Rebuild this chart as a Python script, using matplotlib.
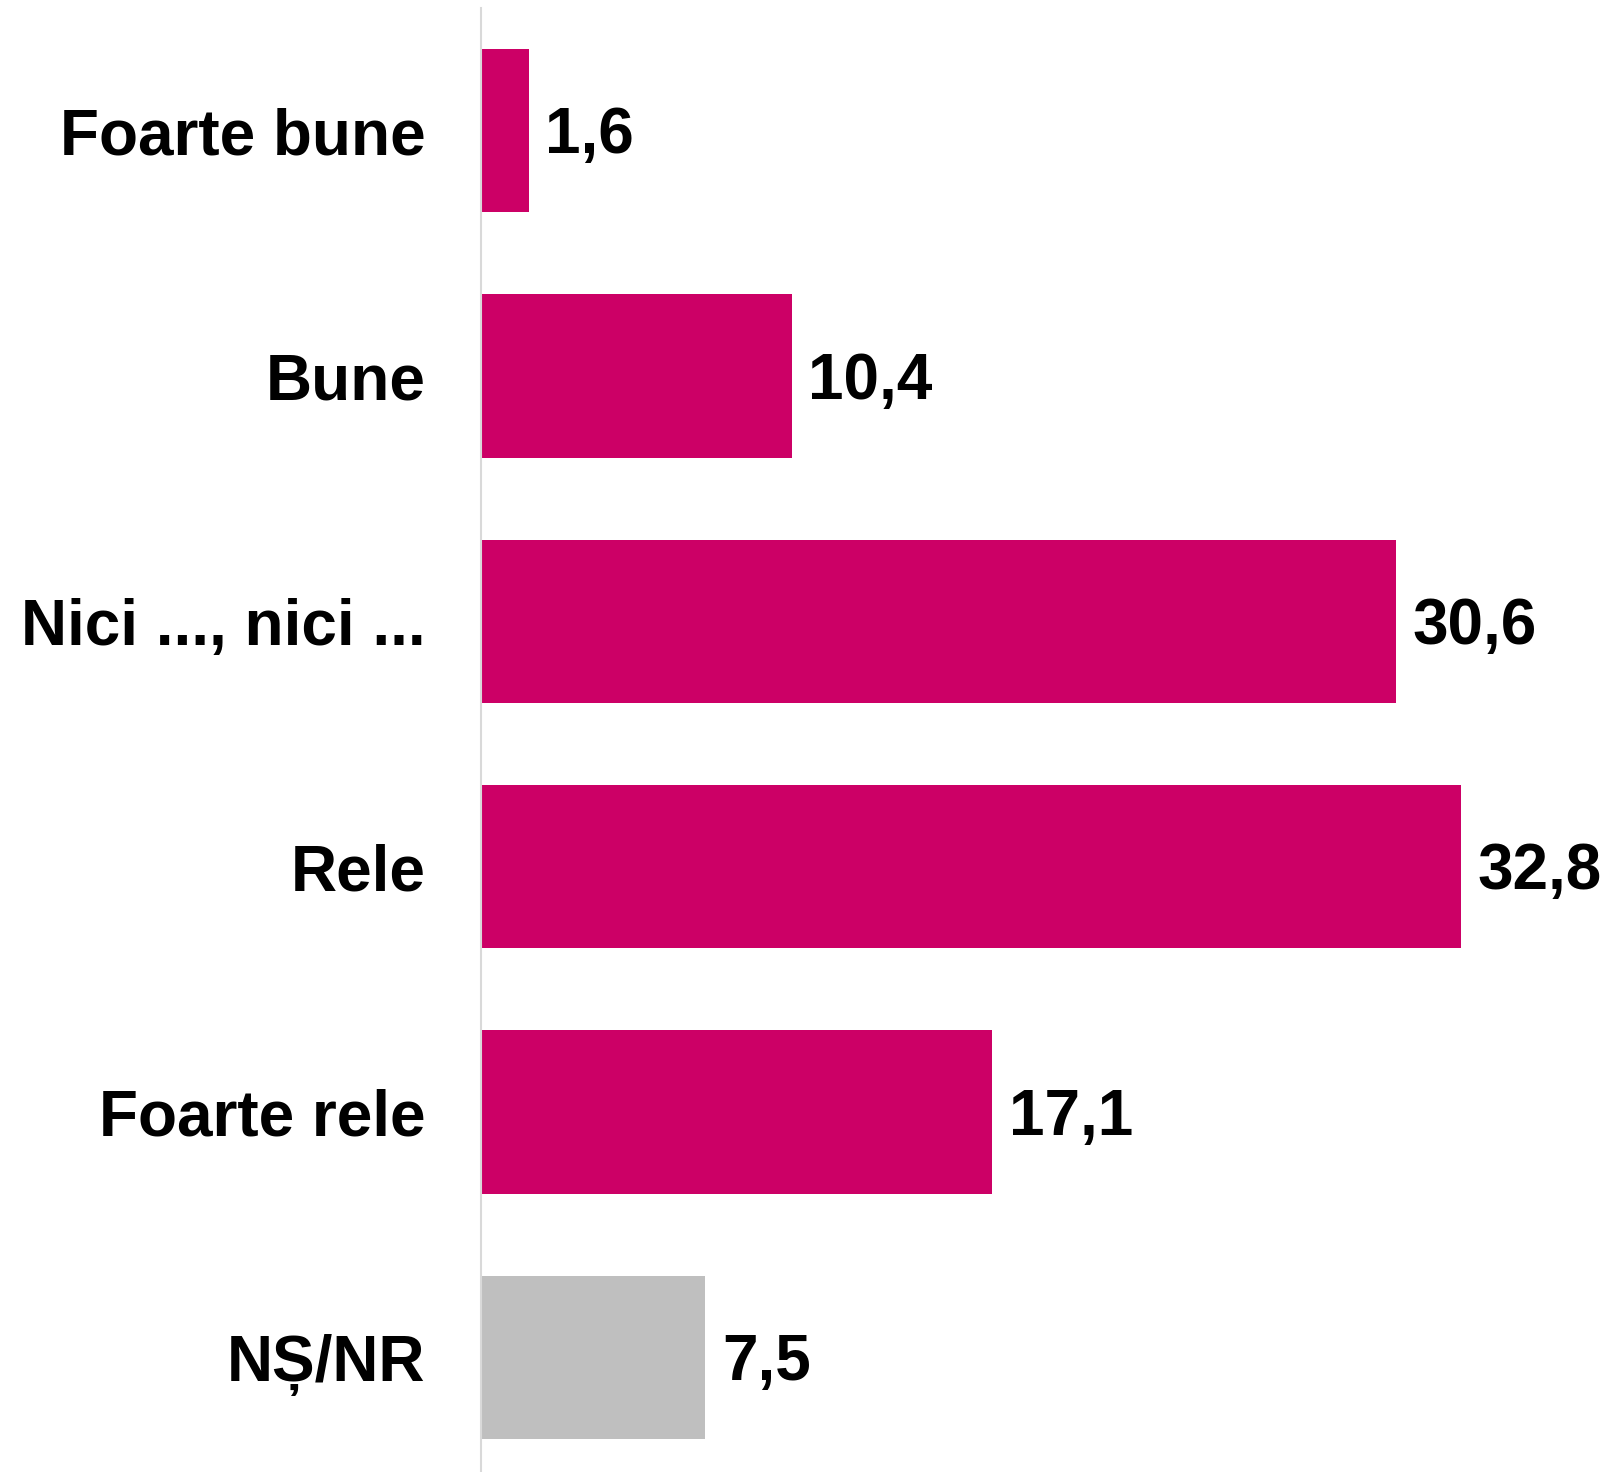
import matplotlib
matplotlib.use("Agg")
import matplotlib.pyplot as plt

categories = ["Foarte bune", "Bune", "Nici ..., nici ...", "Rele", "Foarte rele", "NȘ/NR"]
values = [1.6, 10.4, 30.6, 32.8, 17.1, 7.5]
colors = ["#CC0066"] * 5 + ["#BFBFBF"]

plt.rcParams["font.family"] = ["Liberation Sans", "DejaVu Sans"]

W, H = 1613, 1472
fig = plt.figure(figsize=(W / 100, H / 100), dpi=100)
ax = fig.add_axes([481 / W, -8 / H, 1046 / W, 1472 / H])

pos = list(range(len(categories)))
bars = ax.barh(pos, values, height=0.667, color=colors)
ax.set_ylim(len(categories) - 0.5, -0.5)
ax.set_xlim(0, 35)

ax.set_yticks(pos)
ax.set_yticklabels(categories, fontsize=46, fontweight="bold")
ax.tick_params(axis="y", length=0, pad=40)
ax.set_xticks([])

for s in ["top", "right", "bottom"]:
    ax.spines[s].set_visible(False)
ax.spines["left"].set_color("#D9D9D9")
ax.spines["left"].set_linewidth(1.5)

for bar, v in zip(bars, values):
    ax.annotate(
        f"{v:.1f}".replace(".", ","),
        xy=(bar.get_width(), bar.get_y() + bar.get_height() / 2),
        xytext=(12, -4),
        textcoords="offset points",
        ha="left",
        va="center",
        fontsize=46,
        fontweight="bold",
    )

fig.savefig("out.png", dpi=100)
